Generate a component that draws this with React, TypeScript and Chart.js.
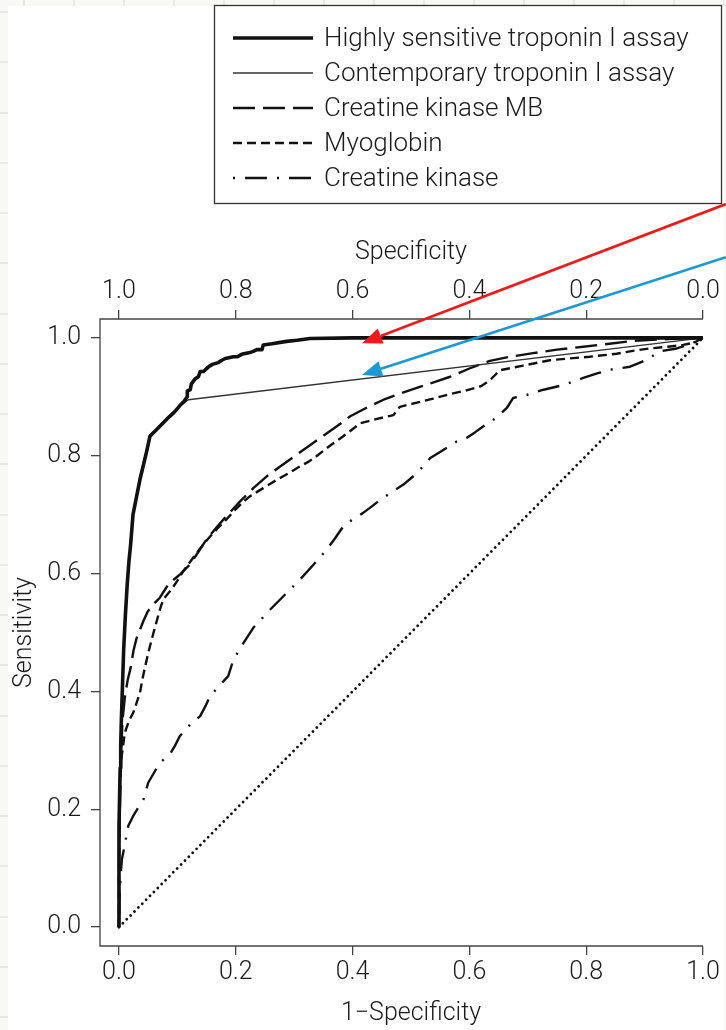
import React, { useEffect, useRef } from "react";
import { Chart, registerables } from "chart.js";

Chart.register(...registerables);

// ---------- data ----------
const axisTicks = [0, 0.2, 0.4, 0.6, 0.8, 1.0];

const legendLabels = [
  "Highly sensitive troponin I assay",
  "Contemporary troponin I assay",
  "Creatine kinase MB",
  "Myoglobin",
  "Creatine kinase",
];

// Highly sensitive troponin I (1-specificity, sensitivity)
const hsX = [0, 0, 0.001, 0.002, 0.003, 0.004, 0.006, 0.008, 0.011, 0.014, 0.017, 0.020, 0.024, 0.030, 0.036, 0.042, 0.048, 0.053, 0.058, 0.062, 0.070, 0.078, 0.086, 0.094, 0.100, 0.106, 0.112, 0.117, 0.117, 0.122, 0.124, 0.130, 0.136, 0.139, 0.145, 0.150, 0.155, 0.160, 0.170, 0.176, 0.182, 0.196, 0.203, 0.210, 0.224, 0.230, 0.236, 0.245, 0.247, 0.262, 0.287, 0.305, 0.327, 0.40, 0.5, 0.6, 0.7, 0.8, 0.9, 1.0];
const hsY = [0, 0.17, 0.22, 0.27, 0.31, 0.35, 0.41, 0.47, 0.53, 0.58, 0.62, 0.65, 0.70, 0.73, 0.76, 0.785, 0.81, 0.833, 0.838, 0.842, 0.850, 0.858, 0.866, 0.873, 0.880, 0.887, 0.893, 0.900, 0.910, 0.912, 0.922, 0.930, 0.934, 0.943, 0.943, 0.948, 0.952, 0.955, 0.958, 0.962, 0.965, 0.968, 0.968, 0.972, 0.975, 0.977, 0.980, 0.980, 0.988, 0.990, 0.994, 0.996, 0.999, 1.0, 1.0, 1.0, 1.0, 1.0, 1.0, 1.0];

// Contemporary troponin I
const ctX = [0, 0, 0.001, 0.002, 0.003, 0.004, 0.006, 0.008, 0.011, 0.014, 0.017, 0.020, 0.024, 0.029, 0.035, 0.041, 0.047, 0.052, 0.058, 0.064, 0.072, 0.080, 0.088, 0.096, 0.104, 0.112, 0.119, 1.0];
const ctY = [0, 0.17, 0.22, 0.27, 0.31, 0.35, 0.41, 0.47, 0.53, 0.58, 0.62, 0.65, 0.70, 0.73, 0.76, 0.785, 0.81, 0.833, 0.840, 0.846, 0.854, 0.862, 0.870, 0.877, 0.884, 0.890, 0.895, 1.0];

// Creatine kinase MB
const mbX = [0, 0, 0.002, 0.004, 0.006, 0.010, 0.015, 0.020, 0.025, 0.030, 0.036, 0.042, 0.049, 0.056, 0.063, 0.070, 0.077, 0.084, 0.094, 0.104, 0.113, 0.122, 0.136, 0.150, 0.165, 0.179, 0.193, 0.207, 0.230, 0.253, 0.282, 0.310, 0.333, 0.356, 0.376, 0.396, 0.425, 0.453, 0.480, 0.510, 0.540, 0.567, 0.600, 0.635, 0.670, 0.709, 0.750, 0.795, 0.840, 0.881, 0.940, 1.0];
const mbY = [0, 0.12, 0.22, 0.30, 0.35, 0.39, 0.42, 0.44, 0.47, 0.49, 0.505, 0.52, 0.535, 0.545, 0.552, 0.559, 0.570, 0.581, 0.590, 0.598, 0.607, 0.616, 0.637, 0.658, 0.676, 0.692, 0.707, 0.722, 0.745, 0.765, 0.786, 0.806, 0.822, 0.838, 0.852, 0.867, 0.882, 0.895, 0.905, 0.915, 0.925, 0.934, 0.948, 0.961, 0.968, 0.974, 0.980, 0.985, 0.990, 0.995, 0.998, 1.0];

// Myoglobin
const myoX = [0, 0, 0.001, 0.002, 0.006, 0.010, 0.017, 0.0245, 0.030, 0.036, 0.040, 0.045, 0.050, 0.056, 0.062, 0.067, 0.072, 0.076, 0.083, 0.090, 0.100, 0.110, 0.122, 0.133, 0.145, 0.156, 0.170, 0.184, 0.198, 0.213, 0.224, 0.247, 0.270, 0.290, 0.310, 0.325, 0.338, 0.352, 0.367, 0.380, 0.396, 0.413, 0.440, 0.470, 0.481, 0.510, 0.538, 0.565, 0.595, 0.620, 0.635, 0.652, 0.692, 0.738, 0.770, 0.806, 0.852, 0.880, 0.909, 0.940, 0.966, 0.985, 1.0];
const myoY = [0, 0.10, 0.20, 0.273, 0.30, 0.33, 0.35, 0.364, 0.38, 0.398, 0.42, 0.443, 0.465, 0.488, 0.510, 0.528, 0.545, 0.556, 0.565, 0.573, 0.588, 0.604, 0.620, 0.635, 0.650, 0.663, 0.678, 0.692, 0.707, 0.722, 0.731, 0.745, 0.759, 0.770, 0.782, 0.790, 0.799, 0.810, 0.821, 0.830, 0.842, 0.855, 0.862, 0.869, 0.883, 0.890, 0.897, 0.904, 0.911, 0.918, 0.928, 0.945, 0.953, 0.962, 0.965, 0.968, 0.973, 0.978, 0.982, 0.985, 0.988, 0.992, 1.0];

// Creatine kinase
const ckX = [0, 0.001, 0.003, 0.005, 0.010, 0.016, 0.0245, 0.033, 0.042, 0.050, 0.060, 0.070, 0.087, 0.096, 0.104, 0.113, 0.122, 0.139, 0.148, 0.156, 0.172, 0.187, 0.196, 0.213, 0.230, 0.245, 0.259, 0.279, 0.295, 0.310, 0.333, 0.356, 0.370, 0.384, 0.400, 0.418, 0.433, 0.447, 0.467, 0.487, 0.505, 0.521, 0.533, 0.556, 0.578, 0.595, 0.610, 0.624, 0.641, 0.652, 0.664, 0.675, 0.698, 0.727, 0.761, 0.795, 0.820, 0.841, 0.875, 0.890, 0.904, 0.926, 0.955, 0.980, 1.0];
const ckY = [0, 0.05, 0.09, 0.115, 0.14, 0.172, 0.189, 0.203, 0.217, 0.245, 0.262, 0.279, 0.293, 0.308, 0.324, 0.334, 0.344, 0.358, 0.375, 0.392, 0.410, 0.426, 0.454, 0.482, 0.508, 0.524, 0.539, 0.559, 0.575, 0.590, 0.615, 0.641, 0.660, 0.680, 0.692, 0.703, 0.714, 0.725, 0.738, 0.751, 0.766, 0.782, 0.796, 0.810, 0.824, 0.830, 0.840, 0.850, 0.861, 0.870, 0.881, 0.898, 0.903, 0.912, 0.920, 0.932, 0.940, 0.946, 0.951, 0.957, 0.963, 0.977, 0.982, 0.990, 1.0];

// Reference (chance) diagonal
const diagX = [0, 1];
const diagY = [0, 1];

// Annotation arrows (data coordinates: tail -> tip)
const arrowTailX = [1.039, 1.039];
const arrowTailY = [1.227, 1.137];
const arrowTipX = [0.416, 0.416];
const arrowTipY = [0.991, 0.937];
const arrowColors = ["#ee1b1b", "#1b98d5"];

// ---------- styles ----------
const FONT = "Roboto, 'Liberation Sans', Arial, sans-serif";
const WEIGHT = 300;
const TEXT = "#1a1a1a";
const AXIS = "#444444";

const seriesStyles = [
  { color: "#111111", width: 3.6, dash: [] as number[], cap: "butt" },
  { color: "#333333", width: 1.3, dash: [] as number[], cap: "butt" },
  { color: "#111111", width: 2.4, dash: [22, 8], cap: "butt" },
  { color: "#111111", width: 2.4, dash: [9, 5], cap: "butt" },
  { color: "#111111", width: 2.4, dash: [2, 10, 22, 10], cap: "butt" },
];

function pts(xs: number[], ys: number[]) {
  return xs.map((x, i) => ({ x, y: ys[i] }));
}

const decorPlugin = {
  id: "decor",
  beforeDraw(chart: any) {
    const ctx = chart.ctx;
    const W = chart.width;
    const H = chart.height;
    ctx.save();
    ctx.fillStyle = "#ffffff";
    ctx.fillRect(0, 0, W, H);
    ctx.fillStyle = "#f8f8f4";
    ctx.fillRect(0, 0, 8, H);
    ctx.fillRect(0, 0, W, 6);
    ctx.fillRect(W - 2, 0, 2, H);
    ctx.fillStyle = "#e8e8e4";
    for (let y = 12; y < H; y += 50.25) ctx.fillRect(0, Math.round(y) - 1, 8, 2);
    for (let x = 24; x < W; x += 50) ctx.fillRect(Math.round(x) - 1, 0, 2, 6);
    ctx.restore();
  },
  afterDraw(chart: any) {
    const ctx = chart.ctx;
    const xs = chart.scales.x;
    const ys = chart.scales.y;
    const ca = chart.chartArea;
    const xEnd = xs.getPixelForValue(1);
    ctx.save();
    // open box: left, top, bottom
    ctx.strokeStyle = AXIS;
    ctx.lineWidth = 1.3;
    ctx.setLineDash([]);
    ctx.beginPath();
    ctx.moveTo(xEnd, ca.top);
    ctx.lineTo(ca.left, ca.top);
    ctx.lineTo(ca.left, ca.bottom);
    ctx.lineTo(xEnd, ca.bottom);
    ctx.stroke();

    // legend
    const lx0 = 214, ly0 = 5, lx1 = 721, ly1 = 203;
    ctx.fillStyle = "#ffffff";
    ctx.fillRect(lx0, ly0, lx1 - lx0, ly1 - ly0);
    ctx.strokeStyle = "#333333";
    ctx.lineWidth = 1.3;
    ctx.strokeRect(lx0 + 0.5, ly0 + 0.5, lx1 - lx0, ly1 - ly0);
    const rows = [38, 73, 108, 143, 178];
    ctx.font = `${WEIGHT} 26px ${FONT}`;
    ctx.textBaseline = "middle";
    ctx.textAlign = "left";
    legendLabels.forEach((lab, i) => {
      const st = seriesStyles[i];
      ctx.strokeStyle = st.color;
      ctx.lineWidth = st.width;
      ctx.lineCap = st.cap;
      ctx.setLineDash(st.dash);
      ctx.beginPath();
      ctx.moveTo(233, rows[i]);
      ctx.lineTo(313, rows[i]);
      ctx.stroke();
      ctx.setLineDash([]);
      ctx.fillStyle = TEXT;
      ctx.fillText(lab, 324, rows[i] + 1);
    });

    // arrows
    arrowColors.forEach((col, i) => {
      const tx = xs.getPixelForValue(arrowTailX[i]);
      const ty = ys.getPixelForValue(arrowTailY[i]);
      const hx = xs.getPixelForValue(arrowTipX[i]);
      const hy = ys.getPixelForValue(arrowTipY[i]);
      const ang = Math.atan2(hy - ty, hx - tx);
      const len = 20, half = 8;
      const bx = hx - len * Math.cos(ang);
      const by = hy - len * Math.sin(ang);
      ctx.strokeStyle = col;
      ctx.fillStyle = col;
      ctx.lineWidth = 2.6;
      ctx.lineCap = "butt";
      ctx.beginPath();
      ctx.moveTo(tx, ty);
      ctx.lineTo(bx, by);
      ctx.stroke();
      ctx.beginPath();
      ctx.moveTo(hx, hy);
      ctx.lineTo(bx + half * Math.sin(ang), by - half * Math.cos(ang));
      ctx.lineTo(bx - half * Math.sin(ang), by + half * Math.cos(ang));
      ctx.closePath();
      ctx.fill();
    });
    ctx.restore();
  },
};

export default function App() {
  const ref = useRef<HTMLCanvasElement | null>(null);

  useEffect(() => {
    if (!ref.current) return;
    const tickFont = { family: FONT, size: 25, weight: WEIGHT };
    const setTicks = (s: any) => {
      s.ticks = axisTicks.map((v) => ({ value: v }));
    };
    const gridOpts = {
      display: true,
      drawOnChartArea: false,
      drawTicks: true,
      tickLength: 9,
      color: AXIS,
      lineWidth: 1.3,
    };
    const mk = (label: string, xs: number[], ys: number[], i: number) => ({
      label,
      data: pts(xs, ys),
      showLine: true,
      fill: false,
      tension: 0,
      pointRadius: 0,
      borderColor: seriesStyles[i].color,
      borderWidth: seriesStyles[i].width,
      borderDash: seriesStyles[i].dash,
      borderCapStyle: seriesStyles[i].cap,
      borderJoinStyle: "round",
    });

    const chart = new Chart(ref.current, {
      type: "scatter",
      data: {
        datasets: [
          mk(legendLabels[0], hsX, hsY, 0),
          mk(legendLabels[1], ctX, ctY, 1),
          mk(legendLabels[2], mbX, mbY, 2),
          mk(legendLabels[3], myoX, myoY, 3),
          mk(legendLabels[4], ckX, ckY, 4),
          {
            label: "Reference",
            data: pts(diagX, diagY),
            showLine: true,
            pointRadius: 0,
            borderColor: "#111111",
            borderWidth: 2.8,
            borderDash: [0.01, 5.5],
            borderCapStyle: "round",
          },
        ],
      },
      options: {
        responsive: false,
        animation: false,
        events: [],
        layout: { padding: { top: 235, left: 0, right: 4, bottom: 0 } },
        plugins: {
          legend: { display: false },
          tooltip: { enabled: false },
        },
        scales: {
          x: {
            type: "linear",
            position: "bottom",
            min: -0.0325,
            max: 1.0325,
            afterBuildTicks: setTicks,
            afterFit: (s: any) => {
              s.height = 84;
            },
            ticks: {
              font: tickFont,
              color: TEXT,
              padding: 3,
              maxRotation: 0,
              autoSkip: false,
              callback: (v: any) => Number(v).toFixed(1),
            },
            grid: gridOpts,
            border: { display: false },
            title: {
              display: true,
              text: "1\u2212Specificity",
              font: tickFont,
              color: TEXT,
              padding: { top: 0, bottom: 1 },
            },
          },
          x2: {
            type: "linear",
            position: "top",
            min: -0.0325,
            max: 1.0325,
            afterBuildTicks: setTicks,
            afterFit: (s: any) => {
              s.height = 84;
            },
            ticks: {
              font: tickFont,
              color: TEXT,
              padding: 3,
              maxRotation: 0,
              autoSkip: false,
              callback: (v: any) => (1 - Number(v)).toFixed(1),
            },
            grid: gridOpts,
            border: { display: false },
            title: {
              display: true,
              text: "Specificity",
              font: tickFont,
              color: TEXT,
              padding: { top: 3, bottom: 0 },
            },
          },
          y: {
            type: "linear",
            position: "left",
            min: -0.032,
            max: 1.032,
            afterBuildTicks: setTicks,
            afterFit: (s: any) => {
              s.width = 100;
            },
            ticks: {
              font: tickFont,
              color: TEXT,
              padding: 10,
              autoSkip: false,
              callback: (v: any) => Number(v).toFixed(1),
            },
            grid: gridOpts,
            border: { display: false },
            title: {
              display: true,
              text: "Sensitivity",
              font: tickFont,
              color: TEXT,
              padding: { top: 10, bottom: 0 },
            },
          },
        },
      },
      plugins: [decorPlugin],
    } as any);
    return () => chart.destroy();
  }, []);

  return (
    <div style={{ position: "fixed", left: 0, top: 0, width: 726, height: 1030, background: "#ffffff" }}>
      <canvas ref={ref} width={726} height={1030} style={{ display: "block" }} />
    </div>
  );
}
